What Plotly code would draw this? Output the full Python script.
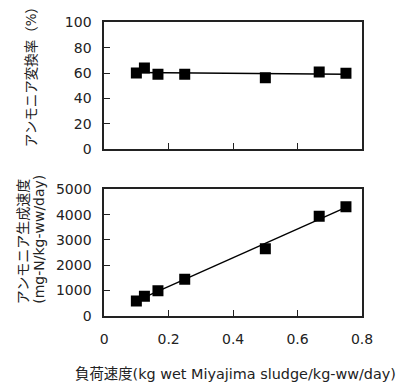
import numpy as np
import plotly.graph_objects as go

# Loading rate (kg wet Miyajima sludge / kg-ww / day)
load_rate = [0.10, 0.125, 0.167, 0.25, 0.50, 0.667, 0.75]
# Ammonia conversion ratio (%)
conversion_pct = [60, 64, 59, 59, 56.3, 60.8, 59.8]
# Ammonia production rate (mg-N / kg-ww / day)
production_rate = [590, 780, 990, 1450, 2650, 3940, 4310]

x_ticks = [0, 0.2, 0.4, 0.6, 0.8]
conv_ticks = [0, 20, 40, 60, 80, 100]
prod_ticks = [0, 1000, 2000, 3000, 4000, 5000]

W, H = 401, 392
FONT = "Verdana, 'DejaVu Sans', 'Noto Sans CJK JP', sans-serif"
TXT = "#222"

# panel geometry in pixels
left_px, right_px = 104, 372
top_panel = (15, 147)
bot_panel = (189, 321)


def ydom(p):
    return [1 - p[1] / H, 1 - p[0] / H]


def fit_line(x, y):
    k, b = np.polyfit(x, y, 1)
    xs = np.array([min(x), max(x)])
    return xs, k * xs + b


fig = go.Figure()

fx, fy = fit_line(load_rate, conversion_pct)
fig.add_trace(go.Scatter(x=fx, y=fy, mode="lines", line=dict(color="black", width=1.4),
                         xaxis="x", yaxis="y", showlegend=False))
fig.add_trace(go.Scatter(x=load_rate, y=conversion_pct, mode="markers",
                         marker=dict(symbol="square", size=11, color="black"),
                         xaxis="x", yaxis="y", showlegend=False))

gx, gy = fit_line(load_rate, production_rate)
fig.add_trace(go.Scatter(x=gx, y=gy, mode="lines", line=dict(color="black", width=1.4),
                         xaxis="x2", yaxis="y2", showlegend=False))
fig.add_trace(go.Scatter(x=load_rate, y=production_rate, mode="markers",
                         marker=dict(symbol="square", size=11, color="black"),
                         xaxis="x2", yaxis="y2", showlegend=False))

axis_common = dict(showline=True, linecolor=TXT, linewidth=1.5, mirror=True,
                   ticks="inside", ticklen=6, tickwidth=1.2, tickcolor=TXT,
                   showgrid=False, zeroline=False,
                   tickfont=dict(family=FONT, size=14, color=TXT))

xdom = [left_px / W, right_px / W]

fig.update_layout(
    width=W, height=H,
    margin=dict(l=0, r=0, t=0, b=0),
    paper_bgcolor="white", plot_bgcolor="white",
    font=dict(family=FONT, color=TXT),
    xaxis=dict(domain=xdom, range=[0, 0.8], tickvals=x_ticks, showticklabels=False,
               anchor="y", **axis_common),
    yaxis=dict(domain=ydom(top_panel), range=[0, 100], tickvals=conv_ticks,
               anchor="x", ticklabelstandoff=8, **axis_common),
    xaxis2=dict(domain=xdom, range=[0, 0.8], tickvals=x_ticks,
                ticktext=["0", "0.2", "0.4", "0.6", "0.8"],
                anchor="y2", ticklabelstandoff=10, **axis_common),
    yaxis2=dict(domain=ydom(bot_panel), range=[0, 5000], tickvals=prod_ticks,
                anchor="x2", ticklabelstandoff=8, **axis_common),
)


def side_title(text, x_px, y_px, size=14):
    fig.add_annotation(text=text, textangle=-90, showarrow=False,
                       xref="paper", yref="paper", x=x_px / W, y=1 - y_px / H,
                       xanchor="center", yanchor="middle", borderpad=0,
                       font=dict(family=FONT, size=size, color=TXT))


side_title("アンモニア変換率（%）", 28, 68, size=13.5)
side_title("アンモニア生成速度", 20, 244)
side_title("(mg-N/kg-ww/day)", 37, 241)

fig.add_annotation(text="負荷速度(kg wet Miyajima sludge/kg-ww/day)", showarrow=False,
                   xref="paper", yref="paper", x=241 / W, y=1 - 382 / H,
                   xanchor="center", yanchor="middle",
                   font=dict(family=FONT, size=14.4, color=TXT))

fig.write_html("out.html")
